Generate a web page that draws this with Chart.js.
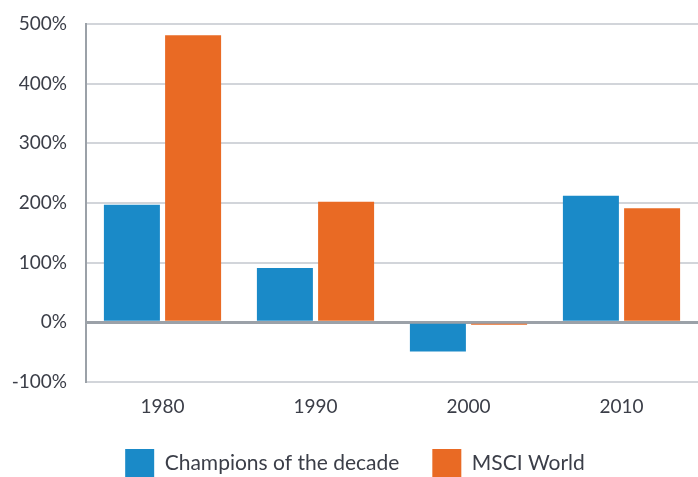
<head>
    <script src="https://cdn.jsdelivr.net/npm/chart.js"></script>
    <style>
        body { margin: 0; background: #fff; }
        #wrap { width: 698px; height: 477px; }
    </style>
</head>
<body>
    <div id="wrap"><canvas id="myChart"></canvas></div>
<script>
    const decades = ['1980', '1990', '2000', '2010'];
    const champions = [197, 91, -49, 212];
    const msciWorld = [481, 202, -4, 191];
    const yTicks = [-100, 0, 100, 200, 300, 400, 500];

    const textColor = '#3b3e48';
    const fontFamily = 'Lato, "Noto Sans", sans-serif';

    new Chart(document.getElementById('myChart'), {
        type: 'bar',
        data: {
            labels: decades,
            datasets: [{
                label: 'Champions of the decade',
                data: champions,
                backgroundColor: '#1a8ac8',
                categoryPercentage: 0.8,
                barPercentage: 0.915
            }, {
                label: 'MSCI World',
                data: msciWorld,
                backgroundColor: '#e96a24',
                categoryPercentage: 0.8,
                barPercentage: 0.915
            }]
        },
        options: {
            responsive: true,
            maintainAspectRatio: false,
            animation: false,
            // left padding nudges the centred legend to the right like the original
            layout: { padding: { top: 0, right: 0, left: 12, bottom: -10 } },
            plugins: {
                tooltip: { enabled: false },
                legend: {
                    position: 'bottom',
                    labels: {
                        boxWidth: 29,
                        boxHeight: 28,
                        padding: 33,
                        color: textColor,
                        font: { family: fontFamily, size: 21 }
                    }
                }
            },
            scales: {
                x: {
                    grid: { display: false, drawTicks: false },
                    border: { display: false },
                    afterFit: (scale) => { scale.height = 34; },
                    ticks: {
                        color: textColor,
                        padding: 13,
                        font: { family: fontFamily, size: 19 }
                    }
                },
                y: {
                    min: yTicks[0],
                    max: yTicks[yTicks.length - 1],
                    afterBuildTicks: (axis) => { axis.ticks = yTicks.map(v => ({ value: v })); },
                    afterFit: (scale) => {
                        scale.width = 74;
                        scale.paddingTop = 24;
                        scale.paddingBottom = 0;
                    },
                    border: { color: '#9ba1a8', width: 2 },
                    grid: {
                        drawTicks: false,
                        color: (c) => c.tick && c.tick.value === 0 ? '#9ba1a8' : '#d2d5da',
                        lineWidth: (c) => c.tick && c.tick.value === 0 ? 3 : 2
                    },
                    ticks: {
                        color: textColor,
                        padding: 19,
                        font: { family: fontFamily, size: 19 },
                        callback: (v) => v + '%'
                    }
                }
            }
        }
    });
</script>
</body>
